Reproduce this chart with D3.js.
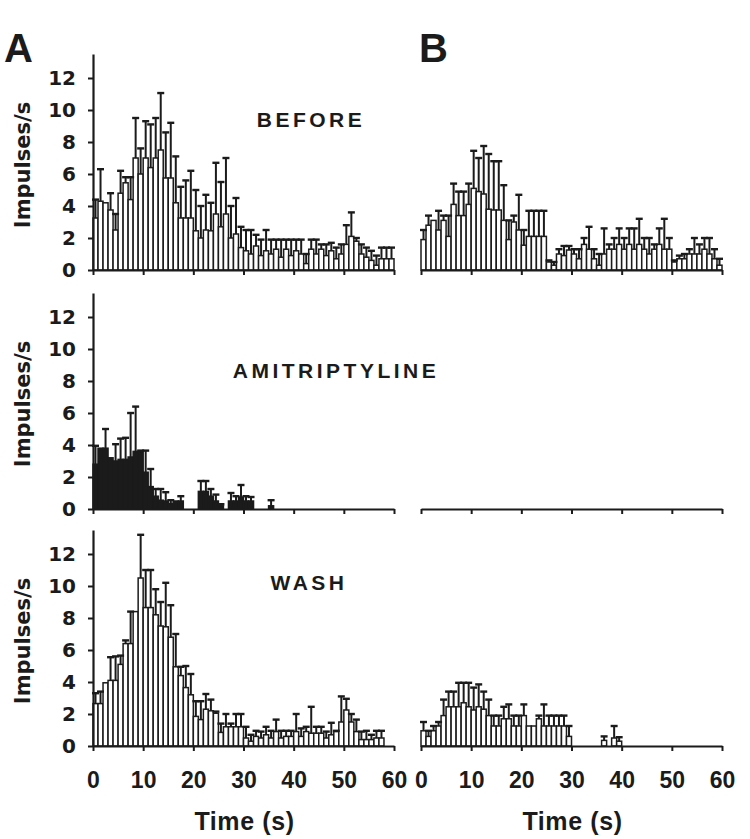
<!DOCTYPE html>
<html><head><meta charset="utf-8">
<script src="https://cdnjs.cloudflare.com/ajax/libs/d3/7.8.5/d3.min.js"></script>
<style>body{margin:0;background:#fff}</style>
</head><body><svg id="c" width="750" height="839"></svg>
<script>
// ---- data (1-s bins, mean rate and upper end of error bar, impulses/s) ----
const bins = d3.range(60);
const xTicks = [0, 10, 20, 30, 40, 50, 60];
const yTicks = [0, 2, 4, 6, 8, 10, 12];
const titles = ["BEFORE", "AMITRIPTYLINE", "WASH"];

const beforeA = [3.25,4.3,4.2,3.75,2.5,4.8,5.45,4.4,7.0,6.0,7.0,6.4,7.0,7.5,5.75,5.75,4.2,3.25,3.25,3.25,2.45,2.0,2.5,2.45,3.5,2.7,3.5,2.0,2.25,1.4,
  1.2,1.0,1.5,0.9,1.2,1.0,1.3,0.8,1.3,0.9,1.2,1.0,0.4,1.3,1.0,1.3,0.9,1.2,0.7,1.0,1.6,2.1,1.8,1.0,0.8,0.6,0.3,0.7,0.7,0.7];
const beforeAUp = [4.4,6.3,4.2,4.8,3.5,6.2,5.8,5.8,9.5,7.6,9.3,9.1,9.5,11.06,8.6,9.2,7.1,5.2,5.6,6.2,5.0,4.0,4.7,4.2,6.7,5.5,7.0,4.0,4.5,2.7,
  2.5,2.5,2.2,1.9,2.5,1.9,1.9,1.9,1.9,1.9,1.9,1.9,1.0,1.9,1.9,1.6,1.6,1.7,1.4,1.6,2.8,3.6,2.0,1.6,1.4,1.2,0.9,1.4,1.4,1.4];

const beforeB = [1.9,2.8,3.1,2.5,3.1,2.1,4.1,3.4,3.4,4.1,5.1,4.9,4.75,3.8,3.75,3.75,3.1,1.9,3.0,2.5,1.55,2.1,2.1,2.1,2.1,0.5,0.3,1.0,0.9,1.25,
  1.0,0.7,1.6,1.3,0.7,0.3,1.0,1.3,1.3,1.6,1.3,1.6,1.3,1.6,1.3,1.0,1.3,1.6,1.3,1.3,0.5,0.7,0.7,1.0,1.0,1.0,1.3,1.0,0.7,0.3];
const beforeBUp = [2.5,3.4,3.1,3.7,3.4,3.4,5.4,4.9,4.9,5.4,7.45,7.0,7.75,7.25,6.8,6.8,5.3,3.1,3.4,4.7,2.5,3.7,3.7,3.7,3.7,0.6,0.5,1.3,1.5,1.5,
  1.3,1.3,2.0,2.7,1.3,1.0,2.6,1.6,2.0,2.6,2.0,2.6,2.6,3.2,2.0,2.0,1.6,2.6,3.2,2.0,0.6,0.9,1.0,1.3,2.0,1.6,2.0,2.0,1.3,0.7];

const amiA = [2.8,3.8,3.8,3.2,3.0,3.1,3.1,3.25,3.6,3.6,2.3,1.4,0.8,0.55,0.5,0.35,0.5,0.5,0,0,0,1.1,1.1,0.8,0.5,0.2,0,0.5,0.5,0.75,
  0.5,0.5,0,0,0,0.2,0,0,0,0,0,0,0,0,0,0,0,0,0,0,0,0,0,0,0,0,0,0,0,0];
const amiAUp = [3.95,3.8,5.0,3.2,4.05,4.4,4.45,6.0,6.4,3.65,3.65,2.5,1.25,1.25,1.05,0.55,0.5,0.8,0,0,0,1.75,1.75,1.25,0.9,0.3,0,1.0,0.8,1.5,
  0.8,0.75,0,0,0,0.55,0,0,0,0,0,0,0,0,0,0,0,0,0,0,0,0,0,0,0,0,0,0,0,0];

const amiB = new Array(60).fill(0);
const amiBUp = new Array(60).fill(0);

const washA = [2.65,2.65,3.95,4.1,4.1,5.1,6.4,6.4,8.4,10.5,8.65,8.65,8.2,7.5,7.45,6.8,4.95,4.4,3.65,3.2,1.85,1.65,2.3,2.2,2.05,0.85,1.2,1.2,1.2,1.2,
  0.5,0.3,0.6,0.5,0.7,0.5,0.9,0.5,0.6,0.6,0.9,0.6,0.9,0.8,0.8,0.8,0.5,0.7,0.9,1.5,2.25,1.5,0.9,0.4,0.4,0.4,0.5,0.5,0,0];
const washAUp = [3.3,3.4,3.95,5.55,5.6,5.65,6.6,8.4,8.4,13.2,11.0,11.0,9.8,9.0,10.2,8.8,7.0,4.95,5.0,4.5,2.8,2.8,3.25,2.9,2.15,1.4,2.0,1.4,2.0,2.0,
  1.2,0.7,0.95,0.9,1.2,0.95,1.65,0.95,0.95,0.95,2.0,1.1,1.2,2.45,1.2,1.2,0.9,1.45,0.95,3.1,2.95,2.0,1.65,0.9,0.95,0.7,0.95,0.95,0,0];

const washB = [0.95,0.6,0.95,1.25,1.9,2.45,2.45,2.45,2.7,2.45,2.25,2.45,2.3,1.9,1.25,1.25,1.7,1.7,1.25,1.25,1.9,1.25,1.25,1.7,1.25,1.25,1.25,1.25,1.25,0.6,
  0,0,0,0,0,0,0.35,0,0.5,0.3,0,0,0,0,0,0,0,0,0,0,0,0,0,0,0,0,0,0,0,0];
const washBUp = [1.5,0.95,1.25,1.5,2.9,3.4,3.4,3.95,3.95,3.95,3.65,3.85,3.4,2.9,1.9,1.9,2.45,2.6,1.9,1.9,2.6,1.25,1.25,1.9,2.6,1.9,1.9,1.9,1.9,1.25,
  0,0,0,0,0,0,0.6,0,1.25,0.55,0,0,0,0,0,0,0,0,0,0,0,0,0,0,0,0,0,0,0,0];

// ---- layout ----
const ink = "#1b1b1b";
const svg = d3.select("#c");
const rowZero = [270, 509, 746];
const colRange = [[93, 394], [421, 722]];
const panels = [
  {row:0, col:0, mean:beforeA, up:beforeAUp, fill:"#fff"},
  {row:0, col:1, mean:beforeB, up:beforeBUp, fill:"#fff"},
  {row:1, col:0, mean:amiA, up:amiAUp, fill:ink},
  {row:1, col:1, mean:amiB, up:amiBUp, fill:ink},
  {row:2, col:0, mean:washA, up:washAUp, fill:"#fff"},
  {row:2, col:1, mean:washB, up:washBUp, fill:"#fff"}
];

panels.forEach(p => {
  const x = d3.scaleLinear().domain([0, 60]).range(colRange[p.col]);
  const z = rowZero[p.row];
  const y = d3.scaleLinear().domain([0, 13.5]).range([z, z - 216]);
  const g = svg.append("g");
  const data = bins.map(i => ({t:i, m:p.mean[i], u:p.up[i]}));

  // bars
  g.selectAll("rect").data(data.filter(d => d.m > 0)).join("rect")
    .attr("x", d => x(d.t)).attr("width", d => x(d.t + 1) - x(d.t))
    .attr("y", d => y(d.m)).attr("height", d => y(0) - y(d.m))
    .attr("fill", p.fill).attr("stroke", ink).attr("stroke-width", 1.5);

  // error bars (upper only)
  const eb = data.filter(d => d.u > d.m);
  g.selectAll("line.e").data(eb).join("line").attr("class", "e")
    .attr("x1", d => x(d.t + 0.5)).attr("x2", d => x(d.t + 0.5))
    .attr("y1", d => y(d.m)).attr("y2", d => y(d.u))
    .attr("stroke", ink).attr("stroke-width", 2);
  g.selectAll("line.c").data(eb).join("line").attr("class", "c")
    .attr("x1", d => x(d.t + 0.5) - 3.5).attr("x2", d => x(d.t + 0.5) + 3.5)
    .attr("y1", d => y(d.u)).attr("y2", d => y(d.u))
    .attr("stroke", ink).attr("stroke-width", 2.4);

  // x axis
  const xa = d3.axisBottom(x).tickValues(xTicks).tickSize(5).tickSizeOuter(0).tickPadding(21)
    .tickFormat(p.row === 2 ? d3.format("d") : () => "");
  const gx = svg.append("g").attr("transform", `translate(0,${z})`).call(xa);
  gx.select(".domain").attr("stroke", ink).attr("stroke-width", 2.2);
  gx.selectAll(".tick line").attr("stroke", ink).attr("stroke-width", 2);
  gx.selectAll("text").attr("fill", ink).attr("font-family", "'Liberation Sans', Arial, sans-serif")
    .attr("font-weight", "bold").attr("font-size", 23);

  // y axis only on column A
  if (p.col === 0) {
    const ya = d3.axisLeft(y).tickValues(yTicks).tickSize(5).tickSizeOuter(0).tickPadding(12);
    const gy = svg.append("g").attr("transform", `translate(${x(0)},0)`).call(ya);
    gy.select(".domain").attr("stroke", ink).attr("stroke-width", 2.2);
    gy.selectAll(".tick line").attr("stroke", ink).attr("stroke-width", 2);
    gy.selectAll("text").attr("fill", ink).attr("font-family", "'DejaVu Sans', sans-serif")
      .attr("font-weight", "bold").attr("font-size", 20);
    svg.append("text").attr("transform", `translate(30,${z - 105}) rotate(-90)`)
      .attr("text-anchor", "middle").attr("fill", ink)
      .attr("font-family", "'DejaVu Sans', sans-serif").attr("font-weight", "bold").attr("font-size", 21)
      .text("Impulses/s");
  }
  if (p.row === 2) {
    svg.append("text").attr("x", (colRange[p.col][0] + colRange[p.col][1]) / 2 + 1).attr("y", 830)
      .attr("text-anchor", "middle").attr("fill", ink)
      .attr("font-family", "'Liberation Sans', Arial, sans-serif").attr("font-weight", "bold")
      .attr("font-size", 25).attr("letter-spacing", 0.6).text("Time (s)");
  }
});

// condition titles
const titlePos = [[311, 127], [336, 378], [309, 590]];
titles.forEach((t, i) => {
  svg.append("text").attr("x", titlePos[i][0]).attr("y", titlePos[i][1])
    .attr("text-anchor", "middle").attr("fill", ink)
    .attr("font-family", "'Liberation Sans', Arial, sans-serif").attr("font-weight", "bold")
    .attr("font-size", 21).attr("letter-spacing", 3.5).text(t);
});

// panel letters
[["A", 4], ["B", 419]].forEach(([l, xx]) => {
  svg.append("text").attr("x", xx).attr("y", 62).attr("fill", ink)
    .attr("font-family", "'Liberation Sans', Arial, sans-serif").attr("font-weight", "bold")
    .attr("font-size", 40).text(l);
});
</script></body></html>
